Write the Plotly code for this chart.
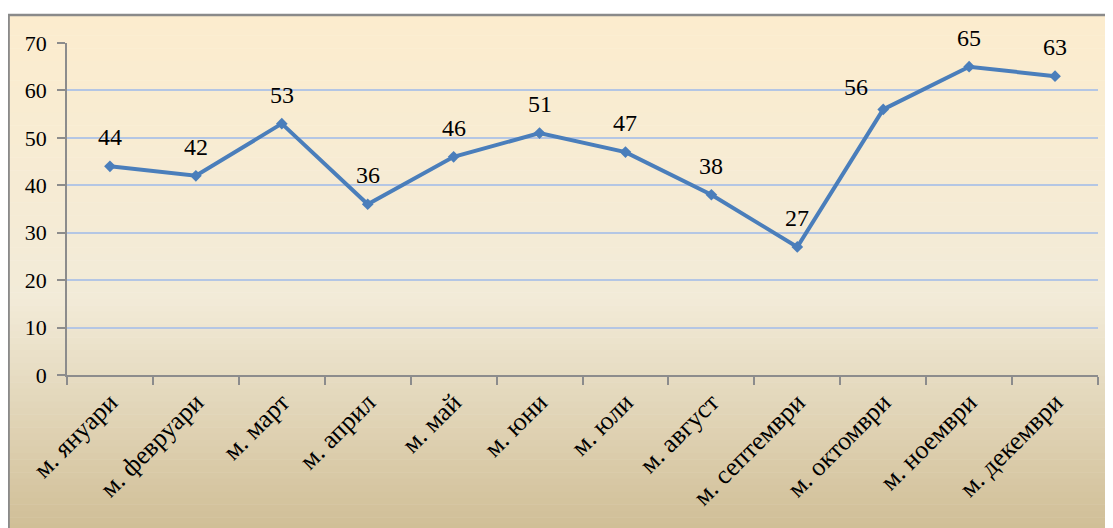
import plotly.graph_objects as go

months = ["м. януари", "м. февруари", "м. март", "м. април", "м. май", "м. юни",
          "м. юли", "м. август", "м. септември", "м. октомври", "м. ноември", "м. декември"]
values = [44, 42, 53, 36, 46, 51, 47, 38, 27, 56, 65, 63]
y_ticks = [0, 10, 20, 30, 40, 50, 60, 70]

# page has an 8px body margin -> figure is drawn from (8, 8)
OFF = 8
PAGE_W, PAGE_H = 1113, 528
W, H = PAGE_W - OFF, PAGE_H - OFF
# plot area in page pixels
PL, PR, PT, PB = 67, 1098, 43, 375
L, R, T, B = PL - OFF, W - (PR - OFF), PT - OFF, H - (PB - OFF)
pw, ph = PR - PL, PB - PT

SERIF = "Liberation Serif, Times New Roman, serif"

def px2x(px):  # page pixel -> paper x
    return (px - PL) / pw

def py2y(py):  # page pixel -> paper y
    return (PB - py) / ph

def lerp(c1, c2, t):
    return tuple(round(a + (b - a) * t) for a, b in zip(c1, c2))

stops = [(0.0, (252, 236, 206)), (0.55, (242, 235, 216)), (1.0, (208, 190, 150))]

def grad(t):
    for (t0, c0), (t1, c1) in zip(stops[:-1], stops[1:]):
        if t <= t1:
            return lerp(c0, c1, (t - t0) / (t1 - t0))
    return stops[-1][1]

shapes = []
top_px, bot_px = 16, PAGE_H + 2
N = 80
for i in range(N):
    y0p = top_px + (bot_px - top_px) * i / N
    y1p = top_px + (bot_px - top_px) * (i + 1) / N + 0.5
    c = grad((i + 0.5) / N)
    shapes.append(dict(type="rect", xref="paper", yref="paper",
                       x0=px2x(8), x1=px2x(PAGE_W + 2), y0=py2y(y1p), y1=py2y(y0p),
                       fillcolor="rgb(%d,%d,%d)" % c, line=dict(width=0), layer="below"))
# border (top and left)
shapes.append(dict(type="line", xref="paper", yref="paper", x0=px2x(8), x1=px2x(PAGE_W + 2),
                   y0=py2y(15), y1=py2y(15), line=dict(color="#8a8a8a", width=2.5), layer="below"))
shapes.append(dict(type="line", xref="paper", yref="paper", x0=px2x(8.6), x1=px2x(8.6),
                   y0=py2y(14), y1=py2y(PAGE_H + 2), line=dict(color="#8a8a8a", width=2.5), layer="below"))

fig = go.Figure()
fig.add_trace(go.Scatter(
    x=months, y=values, mode="lines+markers",
    line=dict(color="#4a7ebb", width=4),
    marker=dict(symbol="diamond", size=9, color="#4a7ebb"),
    cliponaxis=False, showlegend=False, hoverinfo="x+y",
))

annotations = []
for m, v in zip(months, values):
    xs, ys = 0, 29
    if m == "м. октомври":
        xs, ys = -27, 22
    annotations.append(dict(x=m, y=v, xref="x", yref="y", text=str(v), showarrow=False,
                            xshift=xs, yshift=ys,
                            font=dict(family=SERIF, size=24, color="#000000")))

fig.update_layout(
    width=W, height=H,
    margin=dict(l=L, r=R, t=T, b=B),
    paper_bgcolor="white", plot_bgcolor="rgba(0,0,0,0)",
    shapes=shapes, annotations=annotations,
    font=dict(family=SERIF, color="#000000"),
    xaxis=dict(
        type="category", range=[-0.5, 11.5],
        showgrid=False, showline=True, linecolor="#8c8c8c", linewidth=1.5,
        ticks="outside", tickson="boundaries", ticklen=8, tickcolor="#8c8c8c", tickwidth=1.5,
        tickangle=-45, tickfont=dict(family=SERIF, size=26, color="#000000"),
        zeroline=False, automargin=False,
    ),
    yaxis=dict(
        range=[0, 70], tickvals=y_ticks,
        showgrid=True, gridcolor="#b4c6e4", gridwidth=2,
        showline=True, linecolor="#8c8c8c", linewidth=1.5,
        ticks="outside", ticklen=8, tickcolor="#8c8c8c", tickwidth=1.5,
        ticklabelstandoff=6,
        tickfont=dict(family=SERIF, size=22, color="#000000"),
        zeroline=False, automargin=False,
    ),
)

fig.write_html("out.html")
